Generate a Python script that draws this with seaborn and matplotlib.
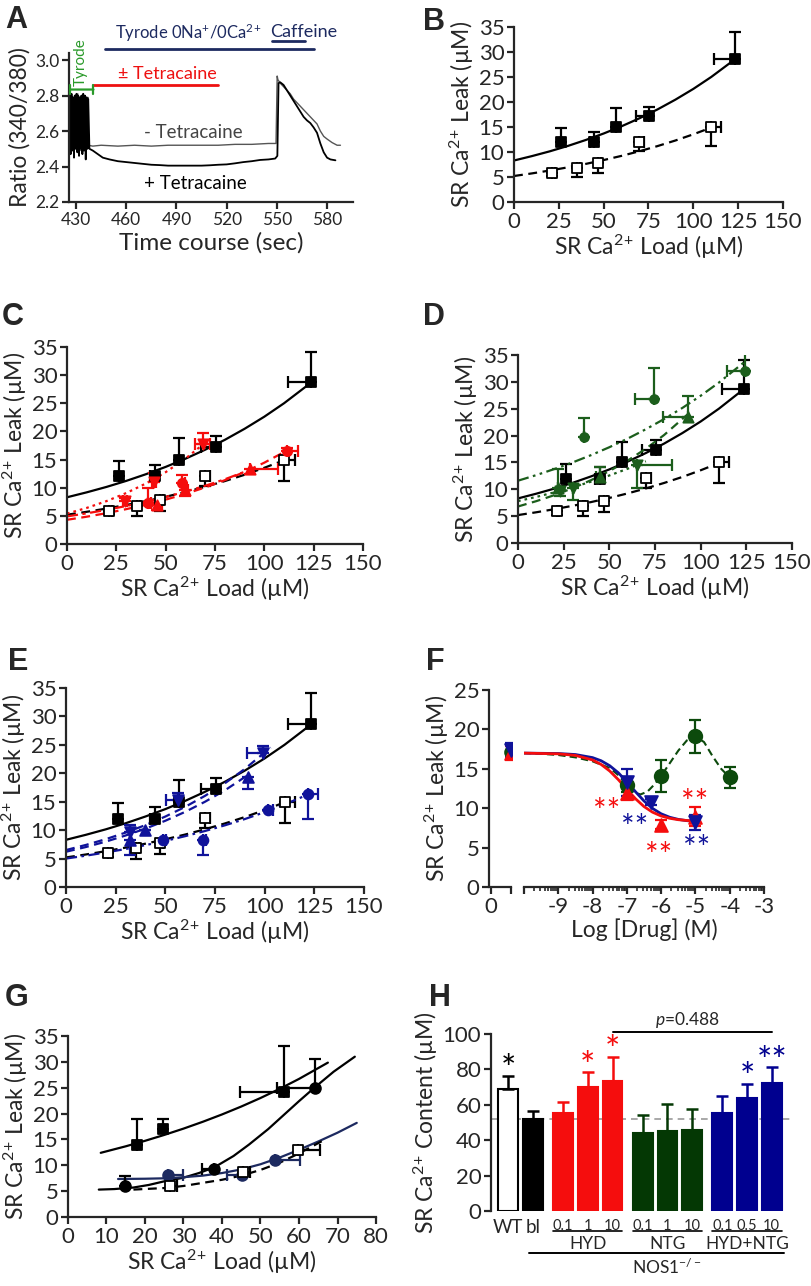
import numpy as np
import matplotlib
matplotlib.use("Agg")
import matplotlib.pyplot as plt
import matplotlib.ticker as mticker
import seaborn as sns

sns.set_style("ticks")
plt.rcParams["font.family"] = ["Lato", "DejaVu Sans"]
plt.rcParams["mathtext.fontset"] = "custom"
plt.rcParams["mathtext.rm"] = "Lato"
plt.rcParams["mathtext.it"] = "Lato:italic"
plt.rcParams["mathtext.default"] = "regular"
plt.rcParams["axes.unicode_minus"] = False

# ---------------- data ----------------
# A: fura-2 ratio traces
plus_t = [425.8, 426.3, 426.8, 427.3, 427.8, 428.3, 428.8, 429.3, 429.8, 430.3, 430.8, 431.3,
          431.8, 432.3, 432.8, 433.3, 433.8, 434.3, 434.8, 435.3, 435.8, 436.3, 436.8, 437.3,
          438, 440, 443, 446, 450, 455, 460, 465, 470, 475, 480, 485, 490, 495, 500, 505, 510,
          515, 520, 525, 530, 535, 540, 545, 549, 550.3, 551, 552, 554, 556, 558, 560, 562, 564,
          566, 568, 570, 572, 574, 576, 578, 580, 582, 585]
plus_v = [2.50, 2.80, 2.47, 2.81, 2.49, 2.79, 2.45, 2.80, 2.50, 2.81, 2.48, 2.80,
          2.46, 2.79, 2.50, 2.80, 2.47, 2.81, 2.49, 2.80, 2.44, 2.79, 2.50, 2.78,
          2.50, 2.49, 2.47, 2.45, 2.44, 2.43, 2.425, 2.42, 2.415, 2.41, 2.408, 2.405, 2.405,
          2.405, 2.405, 2.405, 2.407, 2.41, 2.412, 2.418, 2.425, 2.43, 2.437, 2.44, 2.445, 2.46,
          2.87, 2.875, 2.86, 2.83, 2.80, 2.77, 2.74, 2.71, 2.68, 2.66, 2.645, 2.62, 2.59, 2.53,
          2.48, 2.45, 2.44, 2.435]
minus_t = [425.85, 426.05, 426.55, 427.05, 427.55, 428.05, 428.55, 429.05, 429.55, 430.05,
           430.55, 431.05, 431.55, 432.05, 432.55, 433.05, 433.55, 434.05, 434.55, 435.05,
           435.55, 436.05, 436.55, 437.05,
           437.3, 440, 445, 455, 465, 475, 485, 495, 505, 515, 525, 535, 545, 549.5, 550.2,
           550.6, 552, 554, 556, 558, 560, 562, 564, 566, 568, 570, 572, 574, 576, 578, 580,
           583, 586, 588]
minus_v = [2.52, 2.79, 2.50, 2.80, 2.51, 2.78, 2.49, 2.80, 2.52, 2.79, 2.50, 2.81,
           2.51, 2.79, 2.49, 2.80, 2.52, 2.78, 2.50, 2.80, 2.51, 2.79, 2.50, 2.79,
           2.52, 2.515, 2.52, 2.515, 2.52, 2.515, 2.52, 2.52, 2.52, 2.52, 2.525, 2.525, 2.53,
           2.53, 2.91, 2.89, 2.87, 2.85, 2.83, 2.81, 2.78, 2.76, 2.74, 2.72, 2.70, 2.68, 2.66,
           2.64, 2.60, 2.57, 2.555, 2.535, 2.52, 2.52]
a_xticks = [430, 460, 490, 520, 550, 580]
a_yticks = [2.2, 2.4, 2.6, 2.8, 3.0]
tyrode_on, tyrode_off = 426.4, 440.4
tetra_on, tetra_off = 440.4, 514.6
zero_on, zero_off = 447.4, 572.0
caff_on, caff_off = 547.1, 567.0

# B-E: leak vs load, NOS1-/- (filled squares) and WT (open squares)
ko_load = [26.1, 44.7, 56.8, 75.5, 123.5]
ko_leak = [12.0, 12.0, 15.0, 17.3, 28.7]
ko_err = [2.8, 2.1, 3.8, 1.8, 5.4]
ko_xerr = [0, 2.5, 0, 7.5, 11.7]
ko_fit_x = [0, 10, 20, 30, 40, 50, 60, 70, 80, 90, 100, 110, 123]
ko_fit_y = [8.30, 9.18, 10.14, 11.21, 12.40, 13.70, 15.15, 16.75, 18.51, 20.47, 22.62, 25.01, 28.49]
wt_load = [21.1, 35.4, 47.1, 69.9, 110.0]
wt_leak = [5.9, 6.8, 7.8, 12.1, 15.0]
wt_err = [0.6, 1.8, 2.0, 1.8, 3.8]
wt_xerr = [1.5, 1.5, 1.5, 2.8, 5.5]
wt_fit_x = [0, 10, 20, 30, 40, 50, 60, 70, 80, 90, 100, 110]
wt_fit_y = [5.20, 5.72, 6.30, 6.93, 7.62, 8.39, 9.23, 10.16, 11.18, 12.30, 13.54, 14.89]

# C: HYD
hyd_c_load = [41.2, 58.1, 111.3]
hyd_c_leak = [7.2, 10.8, 16.6]
hyd_c_err = [2.7, 1.4, 0.4]
hyd_c_xerr = [1.5, 1.5, 5.7]
hyd_u_load = [45.4, 59.8, 92.7]
hyd_u_leak = [6.9, 9.6, 13.3]
hyd_u_err = [0.8, 1.0, 0.8]
hyd_u_xerr = [2.5, 1.5, 14.3]
hyd_d_load = [29.4, 44.3, 68.8]
hyd_d_leak = [7.6, 11.1, 17.8]
hyd_d_err = [0.5, 1.6, 2.0]
hyd_d_xerr = [1.0, 1.0, 3.8]
hyd_c_fit_x = [0, 10, 20, 30, 40, 50, 60, 70, 80, 90, 100, 112]
hyd_c_fit_y = [4.30, 4.85, 5.48, 6.19, 6.98, 7.88, 8.90, 10.05, 11.34, 12.80, 14.45, 16.71]
hyd_u_fit_x = [0, 10, 20, 30, 40, 50, 60, 70, 80, 95]
hyd_u_fit_y = [4.90, 5.45, 6.06, 6.75, 7.51, 8.35, 9.29, 10.34, 11.50, 13.49]
hyd_d_fit_x = [0, 10, 20, 30, 40, 50, 60, 70]
hyd_d_fit_y = [5.40, 6.41, 7.62, 9.05, 10.75, 12.76, 15.16, 18.00]

# D: NTG
ntg_c_load = [36.1, 74.5, 124.0]
ntg_c_leak = [19.7, 26.8, 32.1]
ntg_c_err = [3.5, 5.7, 4.6]
ntg_c_xerr = [0, 10.5, 9.5]
ntg_u_load = [22.1, 44.9, 92.9]
ntg_u_leak = [10.2, 12.3, 23.4]
ntg_u_err = [3.5, 1.8, 4.0]
ntg_u_xerr = [0, 2.0, 13.4]
ntg_d_load = [23.0, 29.9, 65.0]
ntg_d_leak = [9.6, 10.2, 14.5]
ntg_d_err = [0.8, 2.2, 4.3]
ntg_d_xerr = [0, 0, 19.5]
ntg_c_fit_x = [0, 10, 20, 30, 40, 50, 60, 70, 80, 90, 100, 110, 125]
ntg_c_fit_y = [11.6, 12.64, 13.78, 15.01, 16.36, 17.83, 19.43, 21.18, 23.08, 25.15, 27.41, 29.87, 33.98]
ntg_u_fit_x = [0, 10, 20, 30, 40, 50, 60, 70, 80, 93]
ntg_u_fit_y = [6.80, 7.79, 8.92, 10.21, 11.70, 13.39, 15.34, 17.56, 20.11, 23.99]
ntg_d_fit_x = [0, 10, 20, 30, 40, 50, 60, 70]
ntg_d_fit_y = [7.80, 8.58, 9.44, 10.38, 11.42, 12.57, 13.82, 15.21]

# E: HYD + NTG
mix_d_load = [32.2, 56.5, 99.3]
mix_d_leak = [9.7, 15.3, 23.6]
mix_d_err = [1.2, 1.2, 1.2]
mix_d_xerr = [0, 6.0, 8.3]
mix_u_load = [32.2, 39.8, 91.8]
mix_u_leak = [8.3, 10.0, 19.3]
mix_u_err = [2.7, 0, 2.0]
mix_c_load = [49.0, 68.8, 101.8, 122.0]
mix_c_leak = [8.3, 8.3, 13.5, 16.3]
mix_c_err = [0, 2.7, 0, 4.3]
mix_c_xerr = [1.5, 1.5, 2.5, 4.8]
mix_d_fit_x = [0, 10, 20, 30, 40, 50, 60, 70, 80, 90, 103]
mix_d_fit_y = [6.50, 7.40, 8.41, 9.57, 10.89, 12.39, 14.10, 16.04, 18.25, 20.76, 24.55]
mix_u_fit_x = [0, 10, 20, 30, 40, 50, 60, 70, 80, 92]
mix_u_fit_y = [6.20, 7.03, 7.98, 9.06, 10.27, 11.65, 13.22, 15.00, 17.01, 19.79]
mix_c_fit_x = [0, 10, 20, 30, 40, 50, 60, 70, 80, 90, 100, 110, 122]
mix_c_fit_y = [5.00, 5.51, 6.07, 6.68, 7.36, 8.11, 8.94, 9.85, 10.85, 11.95, 13.17, 14.51, 16.30]

# F: concentration response
f_ctrl = {"NTG": 17.1, "HYD": 17.0, "HYD+NTG": 17.4}
f_ctrl_err = 0.9
ntg_logc = [-7, -6, -5, -4]
ntg_leak_f = [12.9, 14.1, 19.1, 13.9]
ntg_err_f = [0.8, 2.0, 2.1, 1.3]
hyd_logc = [-7, -6, -5]
hyd_leak_f = [11.9, 7.9, 8.9]
hyd_err_f = [0.8, 0.6, 1.2]
mix_logc = [-7, -6.3, -5]
mix_leak_f = [13.3, 10.8, 8.2]
mix_err_f = [1.7, 0.4, 1.0]
sig_x = [-10, -9, -8.5, -8, -7.75, -7.5, -7.25, -7, -6.75, -6.5, -6.25, -6, -5.75, -5.5, -5.25, -5]
hyd_sig_y = [16.99, 16.90, 16.70, 16.12, 15.55, 14.72, 13.63, 12.40, 11.21, 10.21, 9.49, 9.01,
             8.72, 8.54, 8.44, 8.38]
mix_sig_y = [16.99, 16.94, 16.81, 16.42, 16.02, 15.39, 14.50, 13.35, 12.10, 10.92, 9.97, 9.29,
             8.85, 8.58, 8.42, 8.32]
ntg_curve_x = [-10, -9.5, -9, -8.5, -8, -7.5, -7.25, -7, -6.8, -6.6, -6.4, -6.2, -6, -5.75,
               -5.5, -5.25, -5, -4.75, -4.5, -4.25, -4]
ntg_curve_y = [17.0, 16.9, 16.75, 16.45, 15.95, 15.1, 14.2, 12.9, 12.0, 11.75, 12.1, 13.0, 14.1,
               15.7, 17.3, 18.6, 19.1, 18.4, 16.6, 15.0, 13.9]
f_stars = [(-7.59, 10.7, "HYD"), (-6.76, 8.6, "HYD+NTG"), (-6.08, 5.0, "HYD"),
           (-5.01, 11.8, "HYD"), (-4.96, 5.9, "HYD+NTG")]

# G
g_ko_load = [17.9, 24.8, 56.0]
g_ko_leak = [13.9, 17.1, 24.2]
g_ko_err = [5.1, 1.9, 8.9]
g_ko_xerr = [0, 0, 11.3]
g_blk_load = [14.9, 38.0, 64.2]
g_blk_leak = [5.9, 9.2, 25.0]
g_blk_err = [2.1, 0, 5.5]
g_blk_xerr = [0, 3.2, 10.0]
g_nv_load = [26.1, 45.1, 53.8]
g_nv_leak = [8.2, 8.1, 11.0]
g_nv_xerr_lo = [0, 3.8, 0]
g_nv_xerr_hi = [3.9, 0, 6.5]
g_wt_load = [26.4, 45.4, 59.8]
g_wt_leak = [6.0, 8.7, 12.9]
g_wt_xerr = [1.9, 1.9, 5.7]
g_ko_fit_x = [8.5, 15, 20, 25, 30, 35, 40, 45, 50, 55, 60, 67.5]
g_ko_fit_y = [12.41, 13.67, 14.73, 15.87, 17.09, 18.41, 19.83, 21.36, 23.01, 24.79, 26.70, 29.85]
g_blk_fit_x = [8, 12, 17, 21, 25, 30, 34, 38, 43, 47, 52, 56, 60, 64, 69, 74.5]
g_blk_fit_y = [5.3, 5.4, 5.7, 6.2, 6.9, 7.6, 8.5, 9.6, 11.8, 14.0, 17.0, 19.7, 22.4, 25.0, 28.1, 31.0]
g_nv_fit_x = [13, 20, 26, 30, 35, 40, 45, 50, 55, 60, 65, 70, 75]
g_nv_fit_y = [7.35, 7.4, 7.5, 7.7, 8.0, 8.5, 9.2, 10.2, 11.5, 13.0, 14.6, 16.3, 18.2]
g_wt_fit_x = [17, 25, 30, 35, 40, 45, 50, 55, 60, 66.8]
g_wt_fit_y = [5.3, 5.6, 6.0, 6.6, 7.2, 8.0, 9.1, 10.5, 12.3, 15.0]

# H: SR Ca content
h_labels = ["WT", "bl", "0.1", "1", "10", "0.1", "1", "10", "0.1", "0.5", "10"]
h_groups = ["WT", "bl", "HYD", "HYD", "HYD", "NTG", "NTG", "NTG", "HYD+NTG", "HYD+NTG", "HYD+NTG"]
h_vals = [69.2, 51.7, 55.5, 70.2, 73.6, 43.8, 45.3, 46.0, 55.5, 63.6, 72.1]
h_err = [7.2, 4.9, 6.2, 8.1, 13.6, 10.7, 15.1, 11.5, 9.4, 8.1, 9.0]
h_stars = ["*", "", "", "*", "*", "", "", "", "", "*", "**"]
p_value = 0.488

# ---------------- style ----------------
RED = "#f50d0d"
GREEN = "#1c5e1c"
GREEN_H = "#043804"
BLUE = "#10139a"
NAVY = "#1d2a60"
A_GREEN = "#2a9a2a"
group_color = {"WT": "white", "bl": "black", "HYD": RED, "NTG": GREEN_H, "HYD+NTG": "#00008f"}
CA = "Ca$^{2}$$^{+}$"
TICK = 16
LAB = 16.5

W, H = 812, 1286
fig = plt.figure(figsize=(W / 100, H / 100), dpi=100)


def add_ax(x0, y0, x1, y1, **kw):
    return fig.add_axes([x0 / W, 1 - y1 / H, (x1 - x0) / W, (y1 - y0) / H], **kw)


def frame(ax, size=TICK):
    sns.despine(ax=ax)
    for s in ("left", "bottom"):
        ax.spines[s].set_linewidth(1.6)
    ax.tick_params(width=1.6, length=5, labelsize=size, pad=2)


def ebar(ax, x, y, xerr=None, yerr=None, color="black"):
    ax.errorbar(x, y, xerr=xerr, yerr=yerr, fmt="none", ecolor=color, elinewidth=1.6,
                capsize=4, capthick=1.6, zorder=2)


def fit(ax, x, y, color, ls, lw=1.6):
    sns.lineplot(x=x, y=y, ax=ax, color=color, lw=lw, linestyle=ls, estimator=None, sort=False)


def dots(ax, x, y, marker, face, edge, s):
    sns.scatterplot(x=x, y=y, ax=ax, marker=marker, s=s, color=face, edgecolor=edge,
                    linewidth=1.3, zorder=3, legend=False)


def zeros(v):
    return [0] * len(v)


def leak_axes(ax, xmax=150, xstep=25):
    frame(ax)
    ax.set_xlim(0, xmax)
    ax.set_ylim(0, 35)
    ax.set_xticks(range(0, xmax + 1, xstep))
    ax.set_yticks(range(0, 36, 5))
    ax.set_xlabel("SR " + CA + " Load (µM)", fontsize=LAB, labelpad=1)
    ax.set_ylabel("SR " + CA + " Leak (µM)", fontsize=LAB, labelpad=2)


def base(ax):
    fit(ax, ko_fit_x, ko_fit_y, "black", "-")
    fit(ax, wt_fit_x, wt_fit_y, "black", (0, (4, 2.5)))
    ebar(ax, ko_load, ko_leak, xerr=[ko_xerr, zeros(ko_xerr)], yerr=[zeros(ko_err), ko_err])
    ebar(ax, wt_load, wt_leak, xerr=[zeros(wt_xerr), wt_xerr], yerr=[wt_err, zeros(wt_err)])
    dots(ax, ko_load, ko_leak, "s", "black", "black", 55)
    dots(ax, wt_load, wt_leak, "s", "white", "black", 45)


def letter(x, y, s):
    fig.text(x / W, 1 - y / H, s, fontsize=22, fontweight="bold", family="Liberation Sans",
             ha="left", va="top")


# ---------------- A ----------------
axA = add_ax(69, 53, 353, 202)
sns.lineplot(x=minus_t, y=minus_v, ax=axA, color="#555555", lw=1.0, estimator=None, sort=False)
sns.lineplot(x=plus_t, y=plus_v, ax=axA, color="black", lw=1.3, estimator=None, sort=False)
frame(axA, 12.5)
axA.set_xlim(425.8, 595.5)
axA.set_ylim(2.2, 3.04)
axA.set_xticks(a_xticks)
axA.set_yticks(a_yticks)
axA.yaxis.set_major_formatter(mticker.FormatStrFormatter("%.1f"))
axA.set_xlabel("Time course (sec)", fontsize=17.5, labelpad=3)
axA.set_ylabel("Ratio (340/380)", fontsize=16.5, labelpad=3)
axA.annotate("", xy=(tyrode_on, 2.834), xytext=(tyrode_off, 2.834), annotation_clip=False,
             arrowprops=dict(arrowstyle="|-|,widthA=0.3,widthB=0.3", color=A_GREEN, lw=1.6,
                             shrinkA=0, shrinkB=0))
axA.plot([tetra_on, tetra_off], [2.862, 2.862], color="#ee1111", lw=2, clip_on=False)
axA.plot([zero_on, zero_off], [3.064, 3.064], color=NAVY, lw=2, clip_on=False)
axA.plot([caff_on, caff_off], [3.108, 3.108], color=NAVY, lw=2, clip_on=False)
axA.text((tyrode_on + tyrode_off) / 2 - 0.5, 2.99, "Tyrode", rotation=90, color=A_GREEN,
         fontsize=11, ha="center", va="center")
axA.text(497, 3.121, "Tyrode 0Na$^{+}$/0" + CA, color=NAVY, fontsize=12,
         ha="center", va="baseline")
axA.text(566, 3.132, "Caffeine", color=NAVY, fontsize=13, ha="center", va="baseline")
axA.text(484.5, 2.896, "± Tetracaine", color="#ee1111", fontsize=13, ha="center",
         va="baseline")
axA.text(500.2, 2.559, "- Tetracaine", color="#444444", fontsize=13.5, ha="center", va="baseline")
axA.text(501.6, 2.276, "+ Tetracaine", color="black", fontsize=13.5, ha="center", va="baseline")

# ---------------- B ----------------
axB = add_ax(514, 27, 783, 202)
base(axB)
leak_axes(axB)

# ---------------- C ----------------
axC = add_ax(67, 347, 363, 544)
base(axC)
fit(axC, hyd_c_fit_x, hyd_c_fit_y, RED, (0, (4, 2.5)))
fit(axC, hyd_u_fit_x, hyd_u_fit_y, RED, (0, (5, 2, 1.5, 2)))
fit(axC, hyd_d_fit_x, hyd_d_fit_y, RED, (0, (1.2, 1.8)))
ebar(axC, hyd_c_load, hyd_c_leak, xerr=[zeros(hyd_c_xerr), hyd_c_xerr],
     yerr=[zeros(hyd_c_err), hyd_c_err], color=RED)
ebar(axC, hyd_u_load, hyd_u_leak, xerr=[zeros(hyd_u_xerr), hyd_u_xerr],
     yerr=[hyd_u_err, zeros(hyd_u_err)], color=RED)
ebar(axC, hyd_d_load, hyd_d_leak, xerr=hyd_d_xerr, yerr=[zeros(hyd_d_err), hyd_d_err], color=RED)
dots(axC, hyd_c_load, hyd_c_leak, "o", RED, RED, 45)
dots(axC, hyd_u_load, hyd_u_leak, "^", RED, RED, 55)
dots(axC, hyd_d_load, hyd_d_leak, "v", RED, RED, 55)
leak_axes(axC)

# ---------------- D ----------------
axD = add_ax(518, 355, 792, 543)
base(axD)
fit(axD, ntg_c_fit_x, ntg_c_fit_y, GREEN, (0, (5, 2, 1.2, 2, 1.2, 2)))
fit(axD, ntg_u_fit_x, ntg_u_fit_y, GREEN, (0, (4, 2.5)))
fit(axD, ntg_d_fit_x, ntg_d_fit_y, GREEN, (0, (1.2, 1.8)))
ebar(axD, ntg_c_load, ntg_c_leak, xerr=[ntg_c_xerr, zeros(ntg_c_xerr)],
     yerr=[zeros(ntg_c_err), ntg_c_err], color=GREEN)
ebar(axD, ntg_u_load, ntg_u_leak, xerr=[ntg_u_xerr, zeros(ntg_u_xerr)],
     yerr=[zeros(ntg_u_err), ntg_u_err], color=GREEN)
ebar(axD, ntg_d_load, ntg_d_leak, xerr=[zeros(ntg_d_xerr), ntg_d_xerr],
     yerr=[ntg_d_err, zeros(ntg_d_err)], color=GREEN)
dots(axD, ntg_c_load, ntg_c_leak, "o", GREEN, GREEN, 40)
dots(axD, ntg_u_load, ntg_u_leak, "^", GREEN, GREEN, 55)
dots(axD, ntg_d_load, ntg_d_leak, "v", GREEN, GREEN, 55)
leak_axes(axD)

# ---------------- E ----------------
axE = add_ax(66, 688, 364, 887)
base(axE)
fit(axE, mix_d_fit_x, mix_d_fit_y, BLUE, (0, (4, 2.5)))
fit(axE, mix_u_fit_x, mix_u_fit_y, BLUE, (0, (4, 2.5)))
fit(axE, mix_c_fit_x, mix_c_fit_y, BLUE, (0, (5, 2, 1.2, 2)))
ebar(axE, mix_d_load, mix_d_leak, xerr=[mix_d_xerr, zeros(mix_d_xerr)],
     yerr=[zeros(mix_d_err), mix_d_err], color=BLUE)
ebar(axE, mix_u_load, mix_u_leak, yerr=[mix_u_err, zeros(mix_u_err)], color=BLUE)
ebar(axE, mix_c_load, mix_c_leak, xerr=[zeros(mix_c_xerr), mix_c_xerr],
     yerr=[mix_c_err, zeros(mix_c_err)], color=BLUE)
dots(axE, mix_c_load, mix_c_leak, "o", BLUE, BLUE, 50)
dots(axE, mix_u_load, mix_u_leak, "^", BLUE, BLUE, 60)
dots(axE, mix_d_load, mix_d_leak, "v", BLUE, BLUE, 60)
leak_axes(axE)

# ---------------- F ----------------
F_COL = {"NTG": "#0c4a0c", "HYD": RED, "HYD+NTG": BLUE}
axF0 = add_ax(489, 690, 512, 887)
axF = add_ax(524, 690, 764, 887, sharey=axF0)
frame(axF0)
frame(axF)
sns.despine(ax=axF, left=True)
axF.tick_params(left=False, labelleft=False)
axF0.set_ylim(0, 25)
axF0.set_yticks(range(0, 26, 5))
axF0.set_xlim(-0.1, 1.05)
axF0.spines["bottom"].set_bounds(0, 1)
axF0.set_xticks([0, 1])
axF0.set_xticklabels(["0", ""])
axF0.set_ylabel("SR " + CA + " Leak (µM)", fontsize=LAB, labelpad=2)
for name, marker in (("NTG", "o"), ("HYD", "^"), ("HYD+NTG", "v")):
    ebar(axF0, [1], [f_ctrl[name]], yerr=f_ctrl_err, color=F_COL[name])
    dots(axF0, [1], [f_ctrl[name]], marker, F_COL[name], F_COL[name], 85)

axF.set_xlim(-10, -3)
axF.set_xticks(range(-10, -2))
axF.set_xticklabels([""] + [str(v) for v in range(-9, -2)])
axF.xaxis.set_minor_locator(mticker.FixedLocator(
    [d + np.log10(k) for d in range(-10, -3) for k in range(2, 10)]))
axF.tick_params(axis="x", which="minor", length=3, width=1.2)
axF.set_xlabel("Log [Drug] (M)", fontsize=LAB, labelpad=1)
fit(axF, ntg_curve_x, ntg_curve_y, F_COL["NTG"], (0, (3.5, 2)), lw=1.5)
fit(axF, sig_x, mix_sig_y, F_COL["HYD+NTG"], "-", lw=2)
fit(axF, sig_x, hyd_sig_y, F_COL["HYD"], "-", lw=2)
ebar(axF, ntg_logc, ntg_leak_f, yerr=ntg_err_f, color=F_COL["NTG"])
ebar(axF, hyd_logc, hyd_leak_f, yerr=hyd_err_f, color=F_COL["HYD"])
ebar(axF, mix_logc, mix_leak_f, yerr=mix_err_f, color=F_COL["HYD+NTG"])
dots(axF, ntg_logc, ntg_leak_f, "o", F_COL["NTG"], F_COL["NTG"], 95)
dots(axF, hyd_logc, hyd_leak_f, "^", F_COL["HYD"], F_COL["HYD"], 85)
dots(axF, mix_logc, mix_leak_f, "v", F_COL["HYD+NTG"], F_COL["HYD+NTG"], 85)
for x, y, name in f_stars:
    axF.text(x, y - 1.25, "**", color=F_COL[name], fontsize=23, ha="center", va="center")

# ---------------- G ----------------
axG = add_ax(68, 1036, 376, 1217)
fit(axG, g_ko_fit_x, g_ko_fit_y, "black", "-")
fit(axG, g_blk_fit_x, g_blk_fit_y, "black", "-")
fit(axG, g_nv_fit_x, g_nv_fit_y, NAVY, "-")
fit(axG, g_wt_fit_x, g_wt_fit_y, "black", (0, (4, 2.5)))
ebar(axG, g_ko_load, g_ko_leak, xerr=[g_ko_xerr, zeros(g_ko_xerr)], yerr=[zeros(g_ko_err), g_ko_err])
ebar(axG, g_blk_load, g_blk_leak, xerr=[g_blk_xerr, zeros(g_blk_xerr)],
     yerr=[zeros(g_blk_err), g_blk_err])
ebar(axG, g_nv_load, g_nv_leak, xerr=[g_nv_xerr_lo, g_nv_xerr_hi], color=NAVY)
ebar(axG, g_wt_load, g_wt_leak, xerr=[zeros(g_wt_xerr), g_wt_xerr])
dots(axG, g_ko_load, g_ko_leak, "s", "black", "black", 55)
dots(axG, g_blk_load, g_blk_leak, "o", "black", "black", 60)
dots(axG, g_nv_load, g_nv_leak, "o", NAVY, NAVY, 60)
dots(axG, g_wt_load, g_wt_leak, "s", "white", "black", 45)
leak_axes(axG, xmax=80, xstep=10)

# ---------------- H ----------------
group_idx = {"WT": 0, "bl": 0, "HYD": 1, "NTG": 2, "HYD+NTG": 3}
h_pos = [i + 0.22 * group_idx[g] for i, g in enumerate(h_groups)]
axH = add_ax(491, 1034, 790, 1211)
sns.barplot(x=h_pos, y=h_vals, ax=axH, native_scale=True, color="white", width=0.8,
            errorbar=None, zorder=2)
for patch, g in zip(sorted(axH.patches, key=lambda p: p.get_x()), h_groups):
    patch.set_facecolor(group_color[g])
    patch.set_edgecolor("black" if g in ("WT", "bl") else group_color[g])
    patch.set_linewidth(1.5)
for x, v, e, g, st in zip(h_pos, h_vals, h_err, h_groups, h_stars):
    col = "black" if g in ("WT", "bl") else group_color[g]
    axH.errorbar([x], [v], yerr=[[0], [e]], fmt="none", ecolor=col, elinewidth=1.8,
                 capsize=4, capthick=1.8, zorder=3)
    if st:
        axH.text(x, v + e - 3, st, color=col, fontsize=26, ha="center", va="baseline")
axH.axhline(h_vals[1], color="#9a9a9a", lw=1.2, ls=(0, (4, 3)), zorder=1)
frame(axH)
sns.despine(ax=axH, bottom=True)
axH.set_xlim(-0.7, 11.4)
axH.set_ylim(0, 100)
axH.set_yticks(range(0, 101, 20))
axH.set_xticks(h_pos)
axH.set_xticklabels(h_labels)
axH.tick_params(axis="x", length=0, pad=6)
for lab, txt in zip(axH.get_xticklabels(), h_labels):
    lab.set_fontsize(13.5 if txt in ("WT", "bl") else 10.5)
axH.set_ylabel("SR " + CA + " Content (µM)", fontsize=LAB, labelpad=2)
trans = axH.get_xaxis_transform()
for g in ("HYD", "NTG", "HYD+NTG"):
    xs = [p for p, gg in zip(h_pos, h_groups) if gg == g]
    axH.plot([xs[0] - 0.4, xs[-1] + 0.4], [-0.113, -0.113], color="black", lw=1.2,
             transform=trans, clip_on=False)
    axH.text(sum(xs) / len(xs), -0.185, g, fontsize=12.5, ha="center", va="center",
             transform=trans)
axH.plot([h_pos[1] - 0.15, h_pos[-1] + 0.5], [-0.237, -0.237], color="black", lw=1.4,
         transform=trans, clip_on=False)
axH.text((h_pos[1] + h_pos[-1]) / 2 + 0.6, -0.316, "NOS1$^{-/-}$", fontsize=12.5, ha="center",
         va="center", transform=trans)
axH.plot([h_pos[4], h_pos[-1]], [101.3, 101.3], color="black", lw=1.4, clip_on=False)
axH.text((h_pos[4] + h_pos[-1]) / 2 - 0.2, 102.2, "$\\mathit{p}$=%.3f" % p_value, fontsize=12.5,
         ha="center", va="bottom")

# panel letters
letter(5, 5, "A")
letter(423, 7, "B")
letter(2, 302, "C")
letter(423, 302, "D")
letter(8, 647, "E")
letter(426, 647, "F")
letter(5, 983, "G")
letter(429, 983, "H")

fig.savefig("out.png", dpi=100)
